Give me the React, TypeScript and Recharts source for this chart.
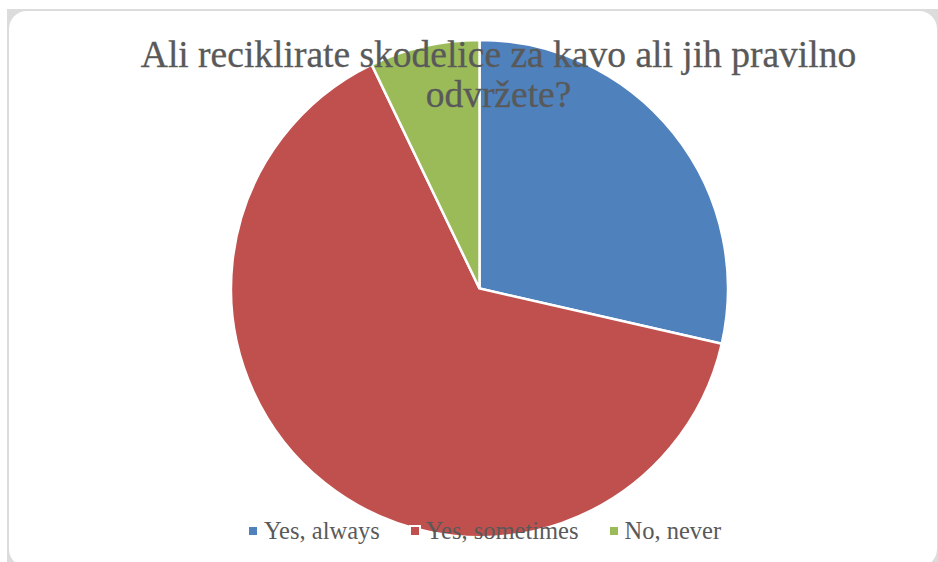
import React from 'react';
import { PieChart, Pie, Cell, Legend } from 'recharts';

const categories = ['Yes, always', 'Yes, sometimes', 'No, never'];
const values = [8, 18, 2];
const colors = ['#4F81BD', '#C0504D', '#9BBB59'];
const titleLines = ['Ali reciklirate skodelice za kavo ali jih pravilno', 'odvržete?'];

const data = categories.map((name, i) => ({ name, value: values[i] }));

const FONT = '"Liberation Serif", "Times New Roman", serif';
const TEXT = '#595959';

const renderLegend = () => (
  <div
    style={{
      display: 'flex',
      justifyContent: 'center',
      alignItems: 'center',
      gap: 31,
      fontFamily: FONT,
      fontSize: 24.5,
      lineHeight: '24px',
      color: TEXT,
    }}
  >
    {categories.map((c, i) => (
      <div key={c} style={{ display: 'flex', alignItems: 'center' }}>
        <span
          style={{
            display: 'inline-block',
            width: 8,
            height: 8,
            background: colors[i],
            outline: '2px solid #ffffff',
            marginRight: 7,
          }}
        />
        <span>{c}</span>
      </div>
    ))}
  </div>
);

export default function App() {
  return (
    <div style={{ position: 'absolute', left: 0, top: 0, width: 938, height: 562, overflow: 'hidden', background: '#ffffff' }}>
      <div style={{ position: 'absolute', left: 7, top: 9, width: 940, height: 570, background: '#dcdcdc' }}>
        <div style={{ position: 'absolute', left: 2, top: 2, width: 928, height: 556, background: '#ffffff', borderRadius: 18 }} />
      </div>
      <div style={{ position: 'absolute', left: 0, top: 0 }}>
        <PieChart width={938} height={562} margin={{ top: 0, right: 0, bottom: 0, left: 0 }}>
          <Pie
            data={data}
            dataKey="value"
            nameKey="name"
            cx={479.5}
            cy={288.5}
            outerRadius={248.5}
            startAngle={90}
            endAngle={-270}
            stroke="#ffffff"
            strokeWidth={2.5}
            isAnimationActive={false}
            labelLine={false}
          >
            {data.map((d, i) => (
              <Cell key={d.name} fill={colors[i]} />
            ))}
          </Pie>
          <Legend
            content={renderLegend}
            wrapperStyle={{ position: 'absolute', top: 519, left: 16, width: 938, bottom: 'auto' }}
          />
        </PieChart>
      </div>
      <svg width={938} height={562} style={{ position: 'absolute', left: 0, top: 0, pointerEvents: 'none' }}>
        {titleLines.map((t, i) => (
          <text
            key={i}
            x={498.5}
            y={66.5 + i * 40.5}
            textAnchor="middle"
            fontFamily={FONT}
            fontSize={37.5}
            fill={TEXT}
            stroke={TEXT}
            strokeWidth={0.3}
          >
            {t}
          </text>
        ))}
      </svg>
    </div>
  );
}
